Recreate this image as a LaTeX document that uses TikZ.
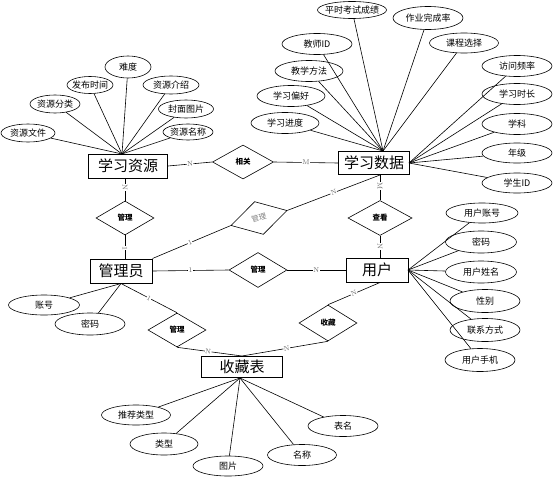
\documentclass[tikz,border=0pt]{standalone}
\usepackage{fontspec}
\newfontfamily\cjk{Noto Sans CJK SC}
\usetikzlibrary{shapes.geometric}
\begin{document}
\begin{tikzpicture}[x=1pt,y=-1pt,
  ent/.style={draw, line width=1pt, inner sep=0pt, font=\cjk\fontsize{15}{15}\selectfont},
  attr/.style={draw, ellipse, line width=0.6pt, inner xsep=-4pt, inner ysep=0pt, minimum width=69pt, minimum height=21pt, font=\cjk\fontsize{9}{9}\selectfont},
  rel/.style={draw, diamond, line width=0.6pt, inner sep=0pt, minimum width=58pt, minimum height=34pt, font=\cjk\bfseries\fontsize{7.5}{7.5}\selectfont},
  lbl/.style={font=\fontsize{7}{7}\selectfont, text=black!60, fill=white, inner sep=0.4pt, sloped},
  conn/.style={line width=0.6pt}]
\useasboundingbox (0,0) rectangle (554,479);

% entities
\node[ent, minimum width=79pt, minimum height=24pt] (res) at (128,166) {学习资源};
\node[ent, minimum width=71pt, minimum height=23pt] (data) at (374,163) {学习数据};
\node[ent, minimum width=62pt, minimum height=24pt] (adm) at (121,271) {管理员};
\node[ent, minimum width=62pt, minimum height=24pt] (user) at (377,270) {用户};
\node[ent, minimum width=81pt, minimum height=21pt] (fav) at (242,367) {收藏表};

% relationships
\node[rel, minimum width=61pt] (xg) at (243,162) {相关};
\node[rel] (gl1) at (125,218) {管理};
\node[rel, rotate=15, text=gray, font=\cjk\fontsize{7.5}{7.5}\selectfont] (gl2) at (259,218) {管理};
\node[rel, minimum height=35pt] (gl3) at (258,270) {管理};
\node[rel, minimum width=64pt, minimum height=35pt] (ck) at (380,218) {查看};
\node[rel] (gl4) at (177,330) {管理};
\node[rel, minimum height=36pt] (sc) at (328,323) {收藏};

% convergence points
\coordinate (rc) at (122,154);
\coordinate (dc) at (383,151);
\coordinate (de) at (409,163);
\coordinate (uc) at (408,270);
\coordinate (fc) at (240,378);

% resource attributes
\node[attr, minimum width=54pt, minimum height=18pt] (r1) at (28,133) {资源文件};
\node[attr, minimum width=50pt, minimum height=18pt] (r2) at (55,104) {资源分类};
\node[attr, minimum width=46pt, minimum height=17pt] (r3) at (90,85) {发布时间};
\node[attr, minimum width=46pt, minimum height=22pt] (r4) at (128,67) {难度};
\node[attr, minimum width=56pt, minimum height=18pt] (r5) at (171,85) {资源介绍};
\node[attr, minimum width=55pt, minimum height=18pt] (r6) at (186,109) {封面图片};
\node[attr, minimum width=50pt, minimum height=16pt] (r7) at (188,132) {资源名称};
\foreach \n in {r1,r2,r3,r4,r5,r6,r7} \draw[conn] (\n) -- (rc);

% data attributes
\node[attr, minimum height=17pt] (d1) at (352,10) {平时考试成绩};
\node[attr, minimum width=70pt, minimum height=23pt] (d2) at (428,18) {作业完成率};
\node[attr, minimum width=70pt] (d3) at (317,44) {教师ID};
\node[attr, minimum height=20pt] (d4) at (464,43) {课程选择};
\node[attr, minimum width=68pt] (d5) at (309,71) {教学方法};
\node[attr, minimum width=70pt] (d6) at (517,66) {访问频率};
\node[attr, minimum width=68pt] (d7) at (291,96) {学习偏好};
\node[attr, minimum width=70pt] (d8) at (517,94) {学习时长};
\node[attr, minimum width=68pt] (d9) at (285,123) {学习进度};
\node[attr, minimum width=70pt] (d10) at (517,124) {学科};
\node[attr, minimum width=70pt, minimum height=20pt] (d11) at (517,153) {年级};
\node[attr, minimum width=70pt, minimum height=20pt] (d12) at (517,183) {学生ID};
\foreach \n in {d1,d2,d3,d4,d5,d7,d9} \draw[conn] (\n) -- (dc);
\foreach \n in {d6,d8,d10,d11,d12} \draw[conn] (\n) -- (de);

% user attributes
\node[attr, minimum width=72pt, minimum height=20pt] (u1) at (482,213) {用户账号};
\node[attr, minimum width=71pt, minimum height=22pt] (u2) at (481,242) {密码};
\node[attr, minimum width=71pt, minimum height=22pt] (u3) at (481,272) {用户姓名};
\node[attr, minimum width=70pt, minimum height=23pt] (u4) at (485,301) {性别};
\node[attr, minimum width=70pt, minimum height=23pt] (u5) at (485,330) {联系方式};
\node[attr, minimum width=70pt, minimum height=23pt] (u6) at (480,360) {用户手机};
\foreach \n in {u1,u2,u3,u4,u5,u6} \draw[conn] (\n) -- (uc);

% admin attributes
\node[attr, minimum width=71pt, minimum height=20pt] (a1) at (44,305) {账号};
\node[attr, minimum width=70pt, minimum height=22pt] (a2) at (90,324) {密码};
\foreach \n in {a1,a2} \draw[conn] (\n) -- (adm.south);

% favourites attributes
\node[attr, minimum height=20pt] (f1) at (136,415) {推荐类型};
\node[attr, minimum width=68pt, minimum height=22pt] (f2) at (164,444) {类型};
\node[attr, minimum width=70pt, minimum height=20pt] (f3) at (228,466) {图片};
\node[attr] (f4) at (302,455) {名称};
\node[attr, minimum width=70pt] (f5) at (343,426) {表名};
\foreach \n in {f1,f2,f3,f4,f5} \draw[conn] (\n) -- (fc);

% relationship connectors
\draw[conn] (res.east) -- node[lbl] {N} (xg.west);
\draw[conn] (xg.east) -- node[lbl] {M} (data.west);
\draw[conn] (gl1.north |- res.south) -- node[lbl, pos=0.4] {N} (gl1.north);
\draw[conn] (gl1.south) -- node[lbl, pos=0.55] {1} (gl1.south |- adm.north);
\draw[conn] (adm.north east) -- node[lbl, pos=0.48] {1} (gl2.west);
\draw[conn] (gl2.east) -- node[lbl] {N} (ck.north |- data.south);
\draw[conn] (ck.north |- data.south) -- node[lbl, pos=0.45] {M} (ck.north);
\draw[conn] (ck.south) -- node[lbl] {N} (ck.south |- user.north);
\draw[conn] (adm.east) -- node[lbl] {1} (gl3.west);
\draw[conn] (gl3.east) -- node[lbl] {N} (user.west);
\draw[conn] (adm.south) -- node[lbl] {1} (gl4.north);
\draw[conn] (gl4.south) -- node[lbl, pos=0.48] {N} (fav.north);
\draw[conn] (ck.south |- user.south) -- node[lbl] {N} (sc.north);
\draw[conn] (sc.south) -- node[lbl, pos=0.48] {N} (fav.north);
\end{tikzpicture}
\end{document}
